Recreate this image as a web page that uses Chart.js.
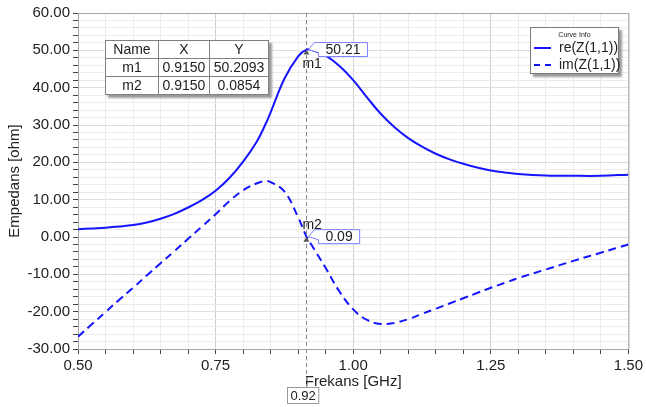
<!DOCTYPE html>
<html>
<head>
<meta charset="utf-8">
<script src="https://cdn.jsdelivr.net/npm/chart.js@4/dist/chart.umd.min.js"></script>
<style>
  body { margin: 0; background: #fff; font-family: "Liberation Sans", Arial, sans-serif; }
  #wrap { position: relative; width: 646px; height: 407px; }
  #markers { position: absolute; left: 105px; top: 40px; border-collapse: collapse; background: #fff;
    box-shadow: 3px 3px 2px #9a9a9a; font-size: 14px; color: #222; }
  #markers td { border: 1px solid #808080; text-align: center; height: 17px; padding: 0 3px; line-height: 17px; }
  #curve-info { position: absolute; left: 530px; top: 27px; width: 87px; height: 45px; border: 1px solid #7a7a7a;
    background: #fff; box-shadow: 3px 3px 2px #9a9a9a; color: #222; }
  #curve-info .title { font-size: 7px; text-align: center; margin-top: 2px; line-height: 9px; }
  #curve-info .row { position: relative; height: 17px; font-size: 14px; line-height: 17px; padding-left: 28px; }
  #curve-info .sample { position: absolute; left: 3px; top: 8px; width: 17px; height: 0; border-top: 2px solid #1414ff; }
  #curve-info .sample.dash { border-top: 2px dashed #1414ff; }
</style>
</head>
<body>
<div id="wrap">
  <canvas id="chart" width="646" height="407"></canvas>
  <table id="markers"></table>
  <div id="curve-info"></div>
</div>
<script>
// frequency points (GHz) and impedance
const freq = [0.500, 0.525, 0.550, 0.575, 0.600, 0.625, 0.650, 0.675, 0.700, 0.725, 0.750, 0.775, 0.800, 0.825,
  0.840, 0.850, 0.875, 0.900, 0.915, 0.925, 0.950, 0.975, 1.000, 1.025, 1.050, 1.075, 1.100, 1.125, 1.150, 1.175,
  1.200, 1.225, 1.250, 1.275, 1.300, 1.350, 1.400, 1.450, 1.500];
const reZ = [2.1, 2.3, 2.5, 2.8, 3.2, 3.9, 4.9, 6.2, 7.9, 9.9, 12.4, 15.8, 20.2, 25.6,
  30.0, 33.4, 42.4, 48.4, 50.21, 50.1, 48.6, 45.8, 42.0, 37.4, 33.0, 29.4, 26.5, 24.2, 22.3, 20.8,
  19.6, 18.6, 17.8, 17.3, 16.9, 16.5, 16.4, 16.4, 16.7];
const imZ = [-26.7, -23.4, -20.1, -16.8, -13.6, -10.3, -7.0, -3.8, -0.5, 2.8, 6.1, 9.6, 12.5, 14.4,
  15.0, 14.7, 12.2, 5.3, 0.09, -2.3, -8.3, -14.6, -19.4, -22.2, -23.3, -23.0, -22.0, -20.6, -19.2, -17.8,
  -16.4, -15.0, -13.6, -12.3, -11.0, -8.7, -6.4, -4.2, -2.0];

const seriesNames = ["re(Z(1,1))", "im(Z(1,1))"];
const markerNames = ["m1", "m2"];
const markerX = [0.9150, 0.9150];
const markerY = [50.2093, 0.0854];

const blue = "#1414ff";

// marker table + curve info box
const table = document.querySelector("#markers");
table.innerHTML = `<tr><td style="width:46px">Name</td><td style="width:44px">X</td><td style="width:52px">Y</td></tr>` +
  markerNames.map((name, i) =>
    `<tr><td>${name}</td><td>${markerX[i].toFixed(4)}</td><td>${markerY[i].toFixed(4)}</td></tr>`).join("");
document.querySelector("#curve-info").innerHTML = `<div class="title">Curve Info</div>` +
  seriesNames.map((name, i) =>
    `<div class="row"><span class="sample${i ? " dash" : ""}"></span>${name}</div>`).join("");

const isMajorX = (v) => Math.abs(v * 4 - Math.round(v * 4)) < 1e-6;
const isMajorY = (v) => Math.abs(v / 10 - Math.round(v / 10)) < 1e-6;

function drawCallout(ctx, px, py, text) {
  ctx.font = "14px 'Liberation Sans', Arial, sans-serif";
  const w = ctx.measureText(text).width + 14;
  const bx = px + 12, top = py - 7, bottom = py + 7;
  ctx.beginPath();
  ctx.moveTo(bx, top);
  ctx.lineTo(bx + w, top);
  ctx.lineTo(bx + w, bottom);
  ctx.lineTo(bx, bottom);
  ctx.lineTo(bx, py + 3);
  ctx.lineTo(px + 2, py);
  ctx.lineTo(bx - 4, top);
  ctx.closePath();
  ctx.fillStyle = "#fff";
  ctx.fill();
  ctx.strokeStyle = "#7d7dff";
  ctx.lineWidth = 1;
  ctx.stroke();
  ctx.fillStyle = "#222";
  ctx.textAlign = "left";
  ctx.textBaseline = "middle";
  ctx.fillText(text, bx + 7, py + 0.5);
}

const markerPlugin = {
  id: "markers",
  beforeDatasetsDraw(chart) {
    const { ctx, chartArea } = chart;
    ctx.save();
    ctx.strokeStyle = "#a5a5a5";
    ctx.lineWidth = 1;
    ctx.strokeRect(chartArea.left + 0.5, chartArea.top + 0.5, chartArea.right - chartArea.left, chartArea.bottom - chartArea.top);
    const mx = Math.round(chart.scales.x.getPixelForValue(markerX[0])) + 0.5;
    ctx.setLineDash([4, 3]);
    ctx.strokeStyle = "#8a8a8a";
    ctx.beginPath();
    ctx.moveTo(mx, chartArea.top);
    ctx.lineTo(mx, 387);
    ctx.stroke();
    ctx.restore();
  },
  afterDatasetsDraw(chart) {
    const { ctx } = chart;
    const xs = chart.scales.x, ys = chart.scales.y;
    ctx.save();
    markerNames.forEach((name, i) => {
      const px = xs.getPixelForValue(markerX[i]);
      const py = ys.getPixelForValue(markerY[i]);
      ctx.fillStyle = "#555";
      ctx.beginPath();
      ctx.moveTo(px, py);
      ctx.lineTo(px - 3, py + 5);
      ctx.lineTo(px + 3, py + 5);
      ctx.closePath();
      ctx.fill();
      ctx.font = "14px 'Liberation Sans', Arial, sans-serif";
      ctx.fillStyle = "#222";
      ctx.textAlign = "left";
      ctx.textBaseline = "middle";
      ctx.fillText(name, px - 4, i === 0 ? py + 15 : py - 12);
      drawCallout(ctx, px, py, markerY[i].toFixed(2));
    });
    // marker frequency box under the x axis
    const mx = xs.getPixelForValue(markerX[0]);
    const label = markerX[0].toFixed(2);
    ctx.font = "13px 'Liberation Sans', Arial, sans-serif";
    const w = ctx.measureText(label).width + 6;
    const bx = Math.round(mx - 4 - w / 2) + 0.5;
    ctx.fillStyle = "#fff";
    ctx.fillRect(bx, 387.5, w, 16);
    ctx.strokeStyle = "#9a9a9a";
    ctx.lineWidth = 1;
    ctx.strokeRect(bx, 387.5, w, 16);
    ctx.fillStyle = "#222";
    ctx.textAlign = "center";
    ctx.textBaseline = "middle";
    ctx.fillText(label, bx + w / 2, 396);
    ctx.restore();
  },
};

const axisFont = { family: "'Liberation Sans', Arial, sans-serif", size: 15 };

new Chart(document.querySelector("#chart"), {
  type: "scatter",
  data: {
    datasets: [
      {
        label: seriesNames[0],
        data: freq.map((f, i) => ({ x: f, y: reZ[i] })),
        showLine: true,
        borderColor: blue,
        borderWidth: 2,
        pointRadius: 0,
        tension: 0.4,
      },
      {
        label: seriesNames[1],
        data: freq.map((f, i) => ({ x: f, y: imZ[i] })),
        showLine: true,
        borderColor: blue,
        borderWidth: 2,
        borderDash: [8, 5],
        pointRadius: 0,
        tension: 0.4,
      },
    ],
  },
  options: {
    responsive: false,
    animation: false,
    layout: { padding: { left: 0, right: 16, top: 13, bottom: 0 } },
    plugins: { legend: { display: false }, tooltip: { enabled: false } },
    scales: {
      x: {
        type: "linear",
        min: 0.5,
        max: 1.5,
        afterFit: (scale) => { scale.height = 58; },
        ticks: {
          stepSize: 0.05,
          autoSkip: false,
          maxRotation: 0,
          padding: 3,
          color: "#222",
          font: axisFont,
          callback: (v) => (isMajorX(v) ? Number(v).toFixed(2) : ""),
        },
        grid: {
          color: (ctx) => (ctx.tick && isMajorX(ctx.tick.value) ? "#d2d2d2" : "#ececec"),
          tickColor: "#444",
          tickLength: 5,
        },
        border: { display: true, color: "#333", width: 1 },
        title: { display: true, text: "Frekans [GHz]", color: "#222", font: axisFont, padding: { top: 0, bottom: 16 } },
      },
      y: {
        min: -30,
        max: 60,
        afterFit: (scale) => { scale.width = 78; },
        ticks: {
          stepSize: 2,
          autoSkip: false,
          padding: 3,
          color: "#222",
          font: axisFont,
          callback: (v) => (isMajorY(v) ? Number(v).toFixed(2) : ""),
        },
        grid: {
          color: (ctx) => (ctx.tick && isMajorY(ctx.tick.value) ? "#dedede" : "#ececec"),
          tickColor: "#444",
          tickLength: 5,
        },
        border: { display: true, color: "#333", width: 1 },
        title: { display: true, text: "Empedans [ohm]", color: "#222", font: axisFont, padding: { top: 6, bottom: 0 } },
      },
    },
  },
  plugins: [markerPlugin],
});
</script>
</body>
</html>
